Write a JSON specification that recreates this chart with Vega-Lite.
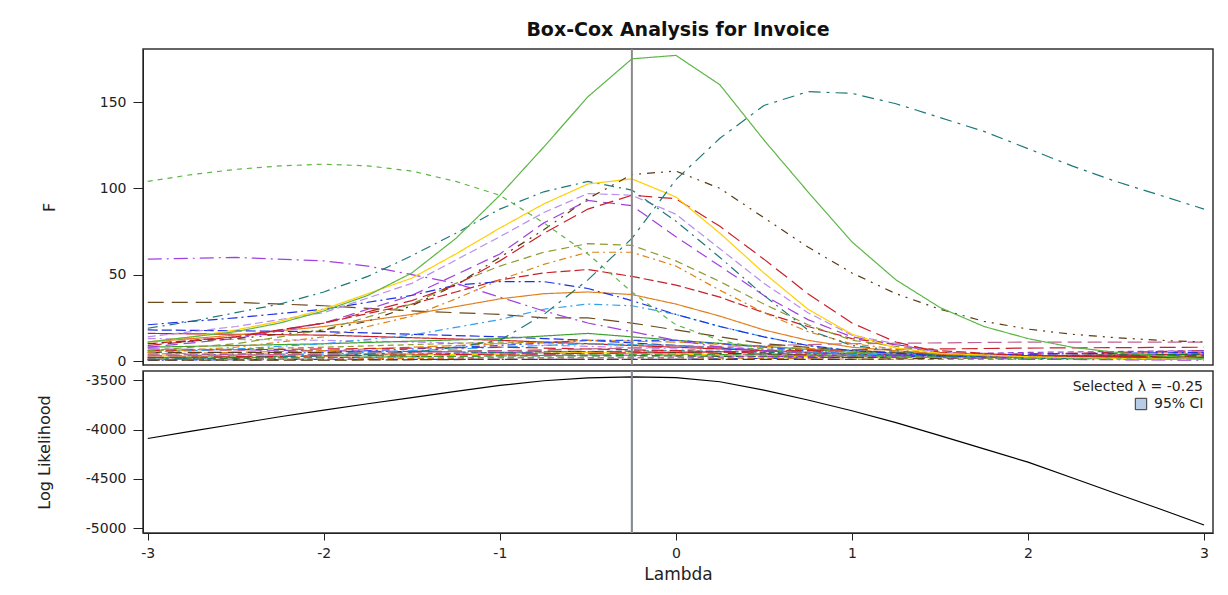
{
  "$schema": "https://vega.github.io/schema/vega-lite/v6.json",
  "background": "white",
  "padding": {"left": 35, "top": 20, "right": 10, "bottom": 10},
  "spacing": 0,
  "resolve": {"legend": {"fill": "independent"}, "scale": {"fill": "independent"}},
  "datasets": {
    "f": [
      {"s":"L01","l":-3,"v":18},{"s":"L01","l":-2,"v":17},{"s":"L01","l":-1,"v":14},{"s":"L01","l":-0.5,"v":12},{"s":"L01","l":0,"v":9},{"s":"L01","l":0.5,"v":6},{"s":"L01","l":1,"v":4},{"s":"L01","l":2,"v":3},{"s":"L01","l":3,"v":3},
      {"s":"L02","l":-3,"v":16},{"s":"L02","l":-2,"v":15},{"s":"L02","l":-1,"v":12},{"s":"L02","l":0,"v":8},{"s":"L02","l":1,"v":4},{"s":"L02","l":2,"v":3},{"s":"L02","l":3,"v":4},
      {"s":"L03","l":-3,"v":13},{"s":"L03","l":-2,"v":12},{"s":"L03","l":-1,"v":10},{"s":"L03","l":0,"v":7},{"s":"L03","l":1,"v":4},{"s":"L03","l":2,"v":3},{"s":"L03","l":3,"v":2},
      {"s":"L04","l":-3,"v":7},{"s":"L04","l":-2,"v":6},{"s":"L04","l":-1,"v":5},{"s":"L04","l":0,"v":4},{"s":"L04","l":1,"v":3},{"s":"L04","l":2,"v":3},{"s":"L04","l":3,"v":4},
      {"s":"L05","l":-3,"v":8},{"s":"L05","l":-2,"v":10},{"s":"L05","l":-1,"v":13},{"s":"L05","l":-0.5,"v":16},{"s":"L05","l":0,"v":12},{"s":"L05","l":1,"v":5},{"s":"L05","l":2,"v":3},{"s":"L05","l":3,"v":2},
      {"s":"L06","l":-3,"v":6},{"s":"L06","l":-2,"v":8},{"s":"L06","l":-1,"v":11},{"s":"L06","l":0,"v":9},{"s":"L06","l":1,"v":5},{"s":"L06","l":2,"v":3},{"s":"L06","l":3,"v":2},
      {"s":"L07","l":-3,"v":4},{"s":"L07","l":-2,"v":6},{"s":"L07","l":-1,"v":10},{"s":"L07","l":-0.5,"v":12},{"s":"L07","l":0,"v":11},{"s":"L07","l":1,"v":6},{"s":"L07","l":2,"v":3},{"s":"L07","l":3,"v":2},
      {"s":"L08","l":-3,"v":3},{"s":"L08","l":-2,"v":5},{"s":"L08","l":-1,"v":9},{"s":"L08","l":-0.5,"v":12},{"s":"L08","l":0,"v":12},{"s":"L08","l":0.5,"v":8},{"s":"L08","l":1,"v":4},{"s":"L08","l":2,"v":2},{"s":"L08","l":3,"v":4},
      {"s":"L09","l":-3,"v":5},{"s":"L09","l":-2,"v":5},{"s":"L09","l":-1,"v":6},{"s":"L09","l":0,"v":5},{"s":"L09","l":1,"v":3},{"s":"L09","l":2,"v":2},{"s":"L09","l":3,"v":3},
      {"s":"L10","l":-3,"v":2},{"s":"L10","l":-2,"v":3},{"s":"L10","l":-1,"v":5},{"s":"L10","l":0,"v":6},{"s":"L10","l":1,"v":4},{"s":"L10","l":2,"v":2},{"s":"L10","l":3,"v":1},
      {"s":"L11","l":-3,"v":4},{"s":"L11","l":-2,"v":4},{"s":"L11","l":-1,"v":4},{"s":"L11","l":0,"v":3},{"s":"L11","l":1,"v":3},{"s":"L11","l":2,"v":4},{"s":"L11","l":3,"v":5},
      {"s":"L12","l":-3,"v":2},{"s":"L12","l":-2,"v":4},{"s":"L12","l":-1,"v":8},{"s":"L12","l":-0.5,"v":10},{"s":"L12","l":0,"v":9},{"s":"L12","l":1,"v":4},{"s":"L12","l":2,"v":2},{"s":"L12","l":3,"v":1},
      {"s":"L13","l":-3,"v":3},{"s":"L13","l":-2,"v":3},{"s":"L13","l":-1,"v":4},{"s":"L13","l":-0.5,"v":5},{"s":"L13","l":0,"v":4},{"s":"L13","l":1,"v":2},{"s":"L13","l":2,"v":2},{"s":"L13","l":3,"v":3},
      {"s":"L14","l":-3,"v":1},{"s":"L14","l":-2,"v":2},{"s":"L14","l":-1,"v":3},{"s":"L14","l":0,"v":3},{"s":"L14","l":1,"v":2},{"s":"L14","l":2,"v":3},{"s":"L14","l":3,"v":4},
      {"s":"L15","l":-3,"v":6},{"s":"L15","l":-2,"v":7},{"s":"L15","l":-1,"v":8},{"s":"L15","l":0,"v":6},{"s":"L15","l":1,"v":3},{"s":"L15","l":2,"v":4},{"s":"L15","l":3,"v":6},
      {"s":"L16","l":-3,"v":1},{"s":"L16","l":-2,"v":1},{"s":"L16","l":-1,"v":2},{"s":"L16","l":0,"v":2},{"s":"L16","l":1,"v":3},{"s":"L16","l":2,"v":5},{"s":"L16","l":3,"v":6},
      {"s":"L17","l":-3,"v":0.5},{"s":"L17","l":-2,"v":1},{"s":"L17","l":-1,"v":1},{"s":"L17","l":0,"v":1},{"s":"L17","l":1,"v":2},{"s":"L17","l":2,"v":4},{"s":"L17","l":3,"v":5},
      {"s":"L18","l":-3,"v":2},{"s":"L18","l":-2,"v":2},{"s":"L18","l":-1,"v":3},{"s":"L18","l":0,"v":4},{"s":"L18","l":1,"v":3},{"s":"L18","l":2,"v":2},{"s":"L18","l":3,"v":3},
      {"s":"L19","l":-3,"v":1},{"s":"L19","l":-2,"v":1},{"s":"L19","l":-1,"v":2},{"s":"L19","l":0,"v":2},{"s":"L19","l":1,"v":1},{"s":"L19","l":2,"v":1},{"s":"L19","l":3,"v":2},
      {"s":"L20","l":-3,"v":0.5},{"s":"L20","l":-2,"v":0.5},{"s":"L20","l":-1,"v":1},{"s":"L20","l":0,"v":1},{"s":"L20","l":1,"v":1},{"s":"L20","l":2,"v":2},{"s":"L20","l":3,"v":3},
      {"s":"S19","l":-3,"v":2},{"s":"S19","l":-2,"v":3},{"s":"S19","l":-1,"v":4},{"s":"S19","l":0,"v":5},{"s":"S19","l":1,"v":6.5},{"s":"S19","l":2,"v":7.5},{"s":"S19","l":3,"v":8},
      {"s":"S18","l":-3,"v":3},{"s":"S18","l":-2,"v":4},{"s":"S18","l":-1,"v":6},{"s":"S18","l":-0.5,"v":7},{"s":"S18","l":0,"v":8},{"s":"S18","l":0.5,"v":9},{"s":"S18","l":1,"v":10},{"s":"S18","l":1.5,"v":10.5},{"s":"S18","l":2,"v":11},{"s":"S18","l":2.5,"v":11},{"s":"S18","l":3,"v":11},
      {"s":"S17","l":-3,"v":34},{"s":"S17","l":-2.5,"v":34},{"s":"S17","l":-2,"v":32},{"s":"S17","l":-1.5,"v":29},{"s":"S17","l":-1,"v":27},{"s":"S17","l":-0.75,"v":25},{"s":"S17","l":-0.5,"v":25},{"s":"S17","l":-0.25,"v":22},{"s":"S17","l":0,"v":18},{"s":"S17","l":0.25,"v":14},{"s":"S17","l":0.5,"v":10},{"s":"S17","l":1,"v":6},{"s":"S17","l":1.5,"v":4},{"s":"S17","l":2,"v":3},{"s":"S17","l":3,"v":2},
      {"s":"S16","l":-3,"v":5},{"s":"S16","l":-2.5,"v":7},{"s":"S16","l":-2,"v":10},{"s":"S16","l":-1.5,"v":15},{"s":"S16","l":-1,"v":24},{"s":"S16","l":-0.75,"v":30},{"s":"S16","l":-0.5,"v":33},{"s":"S16","l":-0.25,"v":32},{"s":"S16","l":0,"v":27},{"s":"S16","l":0.25,"v":20},{"s":"S16","l":0.5,"v":14},{"s":"S16","l":0.75,"v":9},{"s":"S16","l":1,"v":6},{"s":"S16","l":1.5,"v":3},{"s":"S16","l":2,"v":2},{"s":"S16","l":3,"v":1},
      {"s":"S15","l":-3,"v":11},{"s":"S15","l":-2.5,"v":15},{"s":"S15","l":-2,"v":20},{"s":"S15","l":-1.5,"v":27},{"s":"S15","l":-1,"v":36},{"s":"S15","l":-0.75,"v":39},{"s":"S15","l":-0.5,"v":40},{"s":"S15","l":-0.25,"v":38.5},{"s":"S15","l":0,"v":33},{"s":"S15","l":0.25,"v":26},{"s":"S15","l":0.5,"v":18},{"s":"S15","l":0.75,"v":12},{"s":"S15","l":1,"v":8},{"s":"S15","l":1.5,"v":4},{"s":"S15","l":2,"v":2},{"s":"S15","l":3,"v":1},
      {"s":"S14","l":-3,"v":21},{"s":"S14","l":-2.5,"v":25},{"s":"S14","l":-2,"v":30},{"s":"S14","l":-1.5,"v":38},{"s":"S14","l":-1.25,"v":44},{"s":"S14","l":-1,"v":46},{"s":"S14","l":-0.75,"v":46},{"s":"S14","l":-0.5,"v":42},{"s":"S14","l":-0.25,"v":35},{"s":"S14","l":0,"v":27},{"s":"S14","l":0.25,"v":20},{"s":"S14","l":0.5,"v":14},{"s":"S14","l":0.75,"v":9},{"s":"S14","l":1,"v":6},{"s":"S14","l":1.5,"v":3},{"s":"S14","l":2,"v":2},{"s":"S14","l":3,"v":1},
      {"s":"S13","l":-3,"v":10},{"s":"S13","l":-2.5,"v":14},{"s":"S13","l":-2,"v":22},{"s":"S13","l":-1.5,"v":33},{"s":"S13","l":-1.25,"v":40},{"s":"S13","l":-1,"v":47},{"s":"S13","l":-0.75,"v":51},{"s":"S13","l":-0.5,"v":53},{"s":"S13","l":-0.25,"v":49},{"s":"S13","l":0,"v":44},{"s":"S13","l":0.25,"v":37},{"s":"S13","l":0.5,"v":28},{"s":"S13","l":0.75,"v":20},{"s":"S13","l":1,"v":13},{"s":"S13","l":1.5,"v":6},{"s":"S13","l":2,"v":3},{"s":"S13","l":3,"v":2},
      {"s":"S12","l":-3,"v":5},{"s":"S12","l":-2.5,"v":8},{"s":"S12","l":-2,"v":14},{"s":"S12","l":-1.5,"v":26},{"s":"S12","l":-1.25,"v":36},{"s":"S12","l":-1,"v":47},{"s":"S12","l":-0.75,"v":56},{"s":"S12","l":-0.5,"v":63},{"s":"S12","l":-0.25,"v":63},{"s":"S12","l":0,"v":55},{"s":"S12","l":0.25,"v":41},{"s":"S12","l":0.5,"v":28},{"s":"S12","l":0.75,"v":17},{"s":"S12","l":1,"v":10},{"s":"S12","l":1.5,"v":4},{"s":"S12","l":2,"v":2},{"s":"S12","l":3,"v":1},
      {"s":"S11","l":-3,"v":6},{"s":"S11","l":-2.5,"v":10},{"s":"S11","l":-2,"v":18},{"s":"S11","l":-1.5,"v":33},{"s":"S11","l":-1.25,"v":45},{"s":"S11","l":-1,"v":55},{"s":"S11","l":-0.75,"v":63},{"s":"S11","l":-0.5,"v":68},{"s":"S11","l":-0.25,"v":67},{"s":"S11","l":0,"v":58},{"s":"S11","l":0.25,"v":46},{"s":"S11","l":0.5,"v":33},{"s":"S11","l":0.75,"v":21},{"s":"S11","l":1,"v":12},{"s":"S11","l":1.5,"v":5},{"s":"S11","l":2,"v":2},{"s":"S11","l":3,"v":1},
      {"s":"S10","l":-3,"v":59},{"s":"S10","l":-2.5,"v":60},{"s":"S10","l":-2,"v":58},{"s":"S10","l":-1.75,"v":55},{"s":"S10","l":-1.5,"v":50},{"s":"S10","l":-1.25,"v":45},{"s":"S10","l":-1,"v":37},{"s":"S10","l":-0.75,"v":29},{"s":"S10","l":-0.5,"v":22},{"s":"S10","l":-0.25,"v":17},{"s":"S10","l":0,"v":12},{"s":"S10","l":0.25,"v":8},{"s":"S10","l":0.5,"v":6},{"s":"S10","l":1,"v":3},{"s":"S10","l":2,"v":1},{"s":"S10","l":3,"v":0.5},
      {"s":"S09","l":-3,"v":8},{"s":"S09","l":-2.5,"v":13},{"s":"S09","l":-2,"v":22},{"s":"S09","l":-1.5,"v":38},{"s":"S09","l":-1,"v":62},{"s":"S09","l":-0.75,"v":80},{"s":"S09","l":-0.5,"v":93},{"s":"S09","l":-0.25,"v":90},{"s":"S09","l":0,"v":72},{"s":"S09","l":0.25,"v":55},{"s":"S09","l":0.5,"v":38},{"s":"S09","l":0.75,"v":24},{"s":"S09","l":1,"v":14},{"s":"S09","l":1.5,"v":5},{"s":"S09","l":2,"v":2},{"s":"S09","l":3,"v":1},
      {"s":"S08","l":-3,"v":14},{"s":"S08","l":-2.5,"v":20},{"s":"S08","l":-2,"v":28},{"s":"S08","l":-1.5,"v":45},{"s":"S08","l":-1,"v":72},{"s":"S08","l":-0.75,"v":86},{"s":"S08","l":-0.5,"v":97},{"s":"S08","l":-0.25,"v":96},{"s":"S08","l":0,"v":85},{"s":"S08","l":0.25,"v":65},{"s":"S08","l":0.5,"v":45},{"s":"S08","l":0.75,"v":28},{"s":"S08","l":1,"v":15},{"s":"S08","l":1.5,"v":5},{"s":"S08","l":2,"v":2},{"s":"S08","l":3,"v":1},
      {"s":"S07","l":-3,"v":19},{"s":"S07","l":-2.75,"v":23},{"s":"S07","l":-2.5,"v":28},{"s":"S07","l":-2.25,"v":33},{"s":"S07","l":-2,"v":40},{"s":"S07","l":-1.75,"v":49},{"s":"S07","l":-1.5,"v":61},{"s":"S07","l":-1.25,"v":74},{"s":"S07","l":-1,"v":88},{"s":"S07","l":-0.75,"v":98},{"s":"S07","l":-0.5,"v":104},{"s":"S07","l":-0.25,"v":99},{"s":"S07","l":0,"v":81},{"s":"S07","l":0.25,"v":60},{"s":"S07","l":0.5,"v":38},{"s":"S07","l":0.75,"v":18},{"s":"S07","l":1,"v":9},{"s":"S07","l":1.5,"v":3},{"s":"S07","l":2,"v":1.5},{"s":"S07","l":3,"v":1},
      {"s":"S06","l":-3,"v":9},{"s":"S06","l":-2.5,"v":14},{"s":"S06","l":-2,"v":22},{"s":"S06","l":-1.5,"v":35},{"s":"S06","l":-1.25,"v":44},{"s":"S06","l":-1,"v":58},{"s":"S06","l":-0.75,"v":74},{"s":"S06","l":-0.5,"v":88},{"s":"S06","l":-0.25,"v":96},{"s":"S06","l":0,"v":94},{"s":"S06","l":0.25,"v":78},{"s":"S06","l":0.5,"v":59},{"s":"S06","l":0.75,"v":39},{"s":"S06","l":1,"v":22},{"s":"S06","l":1.25,"v":11},{"s":"S06","l":1.5,"v":5},{"s":"S06","l":2,"v":3},{"s":"S06","l":3,"v":2},
      {"s":"S05","l":-3,"v":11},{"s":"S05","l":-2.75,"v":14},{"s":"S05","l":-2.5,"v":18},{"s":"S05","l":-2.25,"v":23},{"s":"S05","l":-2,"v":30},{"s":"S05","l":-1.75,"v":39},{"s":"S05","l":-1.5,"v":48},{"s":"S05","l":-1.25,"v":62},{"s":"S05","l":-1,"v":77},{"s":"S05","l":-0.75,"v":91},{"s":"S05","l":-0.5,"v":102.5},{"s":"S05","l":-0.25,"v":105.5},{"s":"S05","l":0,"v":95},{"s":"S05","l":0.25,"v":74},{"s":"S05","l":0.5,"v":51},{"s":"S05","l":0.75,"v":30},{"s":"S05","l":1,"v":15.5},{"s":"S05","l":1.25,"v":7.5},{"s":"S05","l":1.5,"v":4.5},{"s":"S05","l":2,"v":2.5},{"s":"S05","l":2.5,"v":1.5},{"s":"S05","l":3,"v":1},
      {"s":"S04","l":-3,"v":10},{"s":"S04","l":-2.5,"v":13},{"s":"S04","l":-2,"v":18},{"s":"S04","l":-1.75,"v":23},{"s":"S04","l":-1.5,"v":32},{"s":"S04","l":-1.25,"v":44},{"s":"S04","l":-1,"v":60},{"s":"S04","l":-0.75,"v":76},{"s":"S04","l":-0.5,"v":94},{"s":"S04","l":-0.25,"v":108},{"s":"S04","l":0,"v":110},{"s":"S04","l":0.25,"v":100},{"s":"S04","l":0.5,"v":83},{"s":"S04","l":0.75,"v":66},{"s":"S04","l":1,"v":51},{"s":"S04","l":1.25,"v":39},{"s":"S04","l":1.5,"v":30},{"s":"S04","l":1.75,"v":23},{"s":"S04","l":2,"v":18.5},{"s":"S04","l":2.25,"v":15.5},{"s":"S04","l":2.5,"v":13.5},{"s":"S04","l":2.75,"v":12},{"s":"S04","l":3,"v":11},
      {"s":"S03","l":-3,"v":104},{"s":"S03","l":-2.75,"v":108},{"s":"S03","l":-2.5,"v":111},{"s":"S03","l":-2.25,"v":113},{"s":"S03","l":-2,"v":114},{"s":"S03","l":-1.75,"v":113},{"s":"S03","l":-1.5,"v":110},{"s":"S03","l":-1.25,"v":104},{"s":"S03","l":-1,"v":96},{"s":"S03","l":-0.75,"v":80},{"s":"S03","l":-0.5,"v":62},{"s":"S03","l":-0.25,"v":40},{"s":"S03","l":0,"v":21},{"s":"S03","l":0.25,"v":12},{"s":"S03","l":0.5,"v":7},{"s":"S03","l":0.75,"v":4},{"s":"S03","l":1,"v":3},{"s":"S03","l":1.5,"v":2},{"s":"S03","l":2,"v":1.5},{"s":"S03","l":3,"v":1},
      {"s":"S02","l":-3,"v":1},{"s":"S02","l":-2.5,"v":2},{"s":"S02","l":-2,"v":3},{"s":"S02","l":-1.5,"v":5},{"s":"S02","l":-1.25,"v":8},{"s":"S02","l":-1,"v":12},{"s":"S02","l":-0.75,"v":27},{"s":"S02","l":-0.5,"v":47},{"s":"S02","l":-0.25,"v":71},{"s":"S02","l":0,"v":105},{"s":"S02","l":0.25,"v":129},{"s":"S02","l":0.5,"v":148},{"s":"S02","l":0.75,"v":156},{"s":"S02","l":1,"v":155},{"s":"S02","l":1.25,"v":149},{"s":"S02","l":1.5,"v":141},{"s":"S02","l":1.75,"v":133},{"s":"S02","l":2,"v":123},{"s":"S02","l":2.25,"v":113},{"s":"S02","l":2.5,"v":104},{"s":"S02","l":2.75,"v":96},{"s":"S02","l":3,"v":88},
      {"s":"S01","l":-3,"v":11},{"s":"S01","l":-2.75,"v":14},{"s":"S01","l":-2.5,"v":17},{"s":"S01","l":-2.25,"v":22},{"s":"S01","l":-2,"v":29},{"s":"S01","l":-1.75,"v":38},{"s":"S01","l":-1.5,"v":51},{"s":"S01","l":-1.25,"v":71},{"s":"S01","l":-1,"v":96},{"s":"S01","l":-0.75,"v":124},{"s":"S01","l":-0.5,"v":153},{"s":"S01","l":-0.25,"v":175},{"s":"S01","l":0,"v":177},{"s":"S01","l":0.25,"v":160},{"s":"S01","l":0.5,"v":128},{"s":"S01","l":0.75,"v":98},{"s":"S01","l":1,"v":69},{"s":"S01","l":1.25,"v":47},{"s":"S01","l":1.5,"v":31},{"s":"S01","l":1.75,"v":20},{"s":"S01","l":2,"v":13},{"s":"S01","l":2.25,"v":8},{"s":"S01","l":2.5,"v":5},{"s":"S01","l":2.75,"v":3},{"s":"S01","l":3,"v":1.3}
    ],
    "ll": [
      {"l":-3,"v":-4090},{"l":-2.75,"v":-4015},{"l":-2.5,"v":-3943},{"l":-2.25,"v":-3870},{"l":-2,"v":-3802},{"l":-1.75,"v":-3738},{"l":-1.5,"v":-3675},{"l":-1.25,"v":-3612},{"l":-1,"v":-3552},{"l":-0.75,"v":-3505},{"l":-0.5,"v":-3476},{"l":-0.25,"v":-3465},{"l":0,"v":-3474},{"l":0.25,"v":-3515},{"l":0.5,"v":-3600},{"l":0.75,"v":-3700},{"l":1,"v":-3809},{"l":1.25,"v":-3930},{"l":1.5,"v":-4061},{"l":1.75,"v":-4195},{"l":2,"v":-4330},{"l":2.25,"v":-4488},{"l":2.5,"v":-4648},{"l":2.75,"v":-4805},{"l":3,"v":-4967}
    ],
    "sel": [{"l":-0.25}],
    "ci": [{"ci":"95% CI","lo":-0.256,"hi":-0.244}]
  },
  "vconcat": [
    {
      "width": 1070,
      "height": 316,
      "title": {"text": "Box-Cox Analysis for Invoice", "anchor": "middle", "font": "DejaVu Sans", "fontSize": 19, "fontWeight": "bold", "color": "#111", "offset": 8},
      "layer": [
        {
          "data": {"name": "f"},
          "mark": {"type": "line", "strokeWidth": 1.2, "clip": true},
          "encoding": {
            "x": {"field": "l", "type": "quantitative", "scale": {"domain": [-3.027, 3.051], "nice": false, "zero": false}, "axis": null},
            "y": {"field": "v", "type": "quantitative", "scale": {"domain": [-2.3, 180.7], "nice": false, "zero": false}, "axis": {"title": "F", "values": [0, 50, 100, 150], "titlePadding": 42, "labelExpr": "'' + datum.value"}},
            "detail": {"field": "s"},
            "stroke": {"field": "s", "type": "nominal", "legend": null, "scale": {
              "domain": ["S01","S02","S03","S04","S05","S06","S07","S08","S09","S10","S11","S12","S13","S14","S15","S16","S17","S18","S19","L01","L02","L03","L04","L05","L06","L07","L08","L09","L10","L11","L12","L13","L14","L15","L16","L17","L18","L19","L20"],
              "range": ["#5CB646","#1E7878","#5CB646","#5C3A12","#FFD000","#C8202A","#1E7878","#B88CF0","#A040E0","#A040E0","#8C9A30","#E08010","#C8202A","#2030E0","#E08020","#30A0F0","#6B4A1E","#C06090","#C8202A","#2030E0","#C8202A","#B88CF0","#9040D0","#40A030","#8C9A30","#E08010","#3050F0","#5C3A12","#1E7878","#C06090","#30A0F0","#FFD000","#207020","#C8202A","#9040D0","#2030E0","#40A030","#E08010","#5C3A12"]
            }},
            "strokeDash": {"field": "s", "type": "nominal", "legend": null, "scale": {
              "domain": ["S01","S02","S03","S04","S05","S06","S07","S08","S09","S10","S11","S12","S13","S14","S15","S16","S17","S18","S19","L01","L02","L03","L04","L05","L06","L07","L08","L09","L10","L11","L12","L13","L14","L15","L16","L17","L18","L19","L20"],
              "range": [[1,0],[12,6,3,6],[5,5],[8,6,2,6,2,6],[1,0],[14,6],[10,5,2,5],[8,4],[12,6],[14,5,2,5],[8,5],[7,4,2,4],[10,4],[10,4,2,4],[1,0],[8,4,2,4],[16,8],[14,6],[16,6],[10,4],[1,0],[8,4,2,4],[12,5],[1,0],[6,4],[10,4],[8,4,2,4],[14,6],[6,3],[12,6],[10,4,2,4],[1,0],[8,4],[12,6],[6,4],[10,4,2,4],[8,5],[6,4],[12,5]]
            }}
          }
        },
        {
          "data": {"name": "sel"},
          "mark": {"type": "rule", "color": "#8A8A8A", "strokeWidth": 2},
          "encoding": {"x": {"field": "l", "type": "quantitative", "axis": null}}
        }
      ]
    },
    {
      "width": 1070,
      "height": 162,
      "layer": [
        {
          "data": {"name": "ci"},
          "mark": {"type": "rect", "clip": true},
          "encoding": {
            "x": {"field": "lo", "type": "quantitative"},
            "x2": {"field": "hi"},
            "fill": {"field": "ci", "type": "nominal", "scale": {"domain": ["95% CI"], "range": ["#B8CCE6"]}, "legend": {
              "title": "Selected λ = -0.25", "orient": "top-right", "offset": 9, "titleAnchor": "end",
              "titleFont": "DejaVu Sans", "titleFontSize": 14, "titleFontWeight": "normal", "titleColor": "#222", "titlePadding": 3,
              "labelFont": "DejaVu Sans", "labelFontSize": 14, "labelColor": "#222", "labelOffset": 6,
              "symbolType": "square", "symbolSize": 130, "symbolStrokeColor": "#333", "symbolStrokeWidth": 1, "symbolOffset": 62
            }}
          }
        },
        {
          "data": {"name": "ll"},
          "mark": {"type": "line", "color": "#000", "strokeWidth": 1.2, "clip": true},
          "encoding": {
            "x": {"field": "l", "type": "quantitative", "scale": {"domain": [-3.027, 3.051], "nice": false, "zero": false}, "axis": {"title": "Lambda", "values": [-3, -2, -1, 0, 1, 2, 3], "tickSize": 7, "labelPadding": 6, "titlePadding": 6, "titleFontSize": 17, "labelExpr": "'' + datum.value"}},
            "y": {"field": "v", "type": "quantitative", "scale": {"domain": [-5048, -3406], "nice": false, "zero": false}, "axis": {"title": "Log Likelihood", "values": [-3500, -4000, -4500, -5000], "titlePadding": 33, "labelExpr": "'' + datum.value"}}
          }
        },
        {
          "data": {"name": "sel"},
          "mark": {"type": "rule", "color": "#8A8A8A", "strokeWidth": 2},
          "encoding": {"x": {"field": "l", "type": "quantitative"}}
        }
      ]
    }
  ],
  "config": {
    "view": {"stroke": "#333", "strokeWidth": 1.5},
    "axis": {
      "grid": false,
      "labelFont": "DejaVu Sans", "labelFontSize": 14, "labelColor": "#222",
      "titleFont": "DejaVu Sans", "titleFontSize": 16, "titleFontWeight": "normal", "titleColor": "#222",
      "tickColor": "#222", "domainColor": "#222", "tickSize": 10, "labelPadding": 7
    }
  }
}
